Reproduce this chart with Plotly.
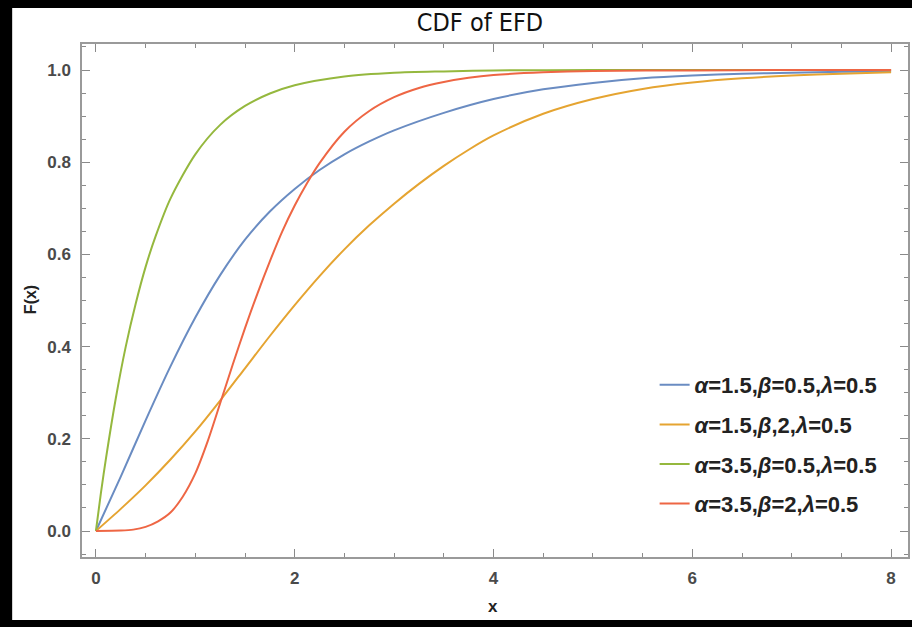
import plotly.graph_objects as go

# ---- data ----
blue_x = [0, 0.25, 0.5, 0.75, 1.0, 1.25, 1.5, 1.75, 2.0, 2.25, 2.5, 2.75, 3.0, 3.5, 4.0, 4.5, 5.0, 5.5, 6.0, 6.5, 7.0, 7.5, 8.0]
blue_y = [0, 0.118, 0.24, 0.357, 0.463, 0.555, 0.632, 0.693, 0.742, 0.783, 0.817, 0.845, 0.869, 0.907, 0.937, 0.958, 0.972, 0.982, 0.988, 0.992, 0.994, 0.996, 0.997]

orange_x = [0, 0.25, 0.5, 0.75, 1.0, 1.25, 1.5, 1.75, 2.0, 2.25, 2.5, 2.75, 3.0, 3.25, 3.5, 3.75, 4.0, 4.5, 5.0, 5.5, 6.0, 6.5, 7.0, 7.5, 8.0]
orange_y = [0, 0.048, 0.099, 0.155, 0.216, 0.283, 0.353, 0.423, 0.49, 0.553, 0.611, 0.663, 0.71, 0.753, 0.792, 0.827, 0.858, 0.905, 0.937, 0.959, 0.973, 0.982, 0.988, 0.992, 0.995]

green_x = [0, 0.05, 0.1, 0.2, 0.3, 0.4, 0.5, 0.6, 0.75, 1.0, 1.25, 1.5, 1.75, 2.0, 2.5, 3.0, 3.5, 4.0, 5.0, 6.0, 7.0, 8.0]
green_y = [0, 0.082, 0.156, 0.288, 0.4, 0.493, 0.573, 0.639, 0.721, 0.817, 0.881, 0.922, 0.949, 0.967, 0.986, 0.994, 0.997, 0.999, 1.0, 1.0, 1.0, 1.0]

red_x = [0, 0.25, 0.375, 0.5, 0.625, 0.75, 0.875, 1.0, 1.125, 1.25, 1.375, 1.5, 1.625, 1.75, 1.875, 2.0, 2.125, 2.25, 2.5, 2.75, 3.0, 3.25, 3.5, 3.75, 4.0, 4.5, 5.0, 6.0, 7.0, 8.0]
red_y = [0, 0.001, 0.003, 0.009, 0.021, 0.04, 0.075, 0.125, 0.195, 0.277, 0.36, 0.44, 0.515, 0.585, 0.65, 0.706, 0.755, 0.798, 0.866, 0.911, 0.941, 0.961, 0.974, 0.983, 0.989, 0.995, 0.998, 0.999, 1.0, 1.0]

series_names = [
    "<b><i>α</i>=1.5,<i>β</i>=0.5,<i>λ</i>=0.5</b>",
    "<b><i>α</i>=1.5,<i>β</i>,2,<i>λ</i>=0.5</b>",
    "<b><i>α</i>=3.5,<i>β</i>=0.5,<i>λ</i>=0.5</b>",
    "<b><i>α</i>=3.5,<i>β</i>=2,<i>λ</i>=0.5</b>",
]
series_colors = ["#6a8cc2", "#e5a431", "#95b83e", "#ee6644"]

x_ticks = [0, 2, 4, 6, 8]
y_ticks = [0.0, 0.2, 0.4, 0.6, 0.8, 1.0]
y_tick_text = ["0.0", "0.2", "0.4", "0.6", "0.8", "1.0"]

title_text = "CDF of EFD"
x_label = "x"
y_label = "F(x)"

# ---- figure ----
W, H = 912, 627
L, R, T, B = 82, 2, 44, 70
pw, ph = W - L - R, H - T - B

fig = go.Figure()
for i, (xs, ys) in enumerate([(blue_x, blue_y), (orange_x, orange_y), (green_x, green_y), (red_x, red_y)]):
    fig.add_trace(go.Scatter(
        x=xs, y=ys, mode="lines", name=series_names[i],
        legendgroup=f"g{i}",
        line=dict(color=series_colors[i], width=2, shape="spline", smoothing=0.8),
    ))

font_main = "Liberation Sans, Arial, sans-serif"
font_narrow = "Liberation Sans Narrow, DejaVu Sans Condensed, Liberation Sans, sans-serif"

axis_common = dict(
    showgrid=False, zeroline=False,
    showline=True, linecolor="#9a9a9a", linewidth=1.5, mirror="ticks",
    ticks="inside", ticklen=8, tickwidth=1.2, tickcolor="#8a8a8a",
    tickfont=dict(family=font_main, size=17, color="#4a4a4a", weight="bold"),
)

fig.update_xaxes(
    range=[-0.14, 8.17], tickvals=x_ticks, ticktext=[str(v) for v in x_ticks],
    minor=dict(dtick=0.5, ticklen=4, tickcolor="#8a8a8a", ticks="inside", tickwidth=1),
    ticklabelstandoff=5,
    **axis_common,
)
fig.update_yaxes(
    range=[-0.0564, 1.0564], tickvals=y_ticks, ticktext=y_tick_text,
    minor=dict(dtick=0.05, ticklen=4, tickcolor="#8a8a8a", ticks="inside", tickwidth=1),
    ticklabelstandoff=6,
    **axis_common,
)

def px_x(p):
    return (p - L) / pw

def px_y(p):
    return (H - B - p) / ph

shapes = [
    # black frame bands of the original image
    dict(type="rect", xref="paper", yref="paper", x0=px_x(-5), x1=px_x(W + 5), y0=px_y(8), y1=px_y(-5),
         fillcolor="black", line=dict(width=0), layer="above"),
    dict(type="rect", xref="paper", yref="paper", x0=px_x(-5), x1=px_x(12), y0=px_y(H + 5), y1=px_y(-5),
         fillcolor="black", line=dict(width=0), layer="above"),
    dict(type="rect", xref="paper", yref="paper", x0=px_x(-5), x1=px_x(W + 5), y0=px_y(H + 5), y1=px_y(620),
         fillcolor="black", line=dict(width=0), layer="above"),
]

annotations = [
    dict(text=f"<b>{x_label}</b>", xref="paper", yref="paper", x=px_x(494), y=px_y(606),
         showarrow=False, font=dict(family=font_main, size=17, color="#222"), xanchor="center", yanchor="middle"),
    dict(text=f"<b>{y_label}</b>", xref="paper", yref="paper", x=px_x(30), y=px_y(300),
         showarrow=False, textangle=-90, font=dict(family=font_main, size=16, color="#222"),
         xanchor="center", yanchor="middle"),
]

fig.update_layout(
    width=W, height=H,
    margin=dict(l=L, r=R, t=T, b=B),
    paper_bgcolor="white", plot_bgcolor="white",
    title=dict(text=title_text, x=480 / W, xanchor="center", y=1 - 22 / H, yanchor="middle",
               font=dict(family=font_narrow, size=25, color="#111")),
    showlegend=True,
    legend=dict(
        x=px_x(656), y=px_y(364), xanchor="left", yanchor="top",
        bgcolor="rgba(255,255,255,0)", borderwidth=0,
        font=dict(family=font_main, size=22, color="#222"),
        tracegroupgap=8, itemwidth=30,
    ),
    shapes=shapes,
    annotations=annotations,
)

fig.write_html("out.html")
